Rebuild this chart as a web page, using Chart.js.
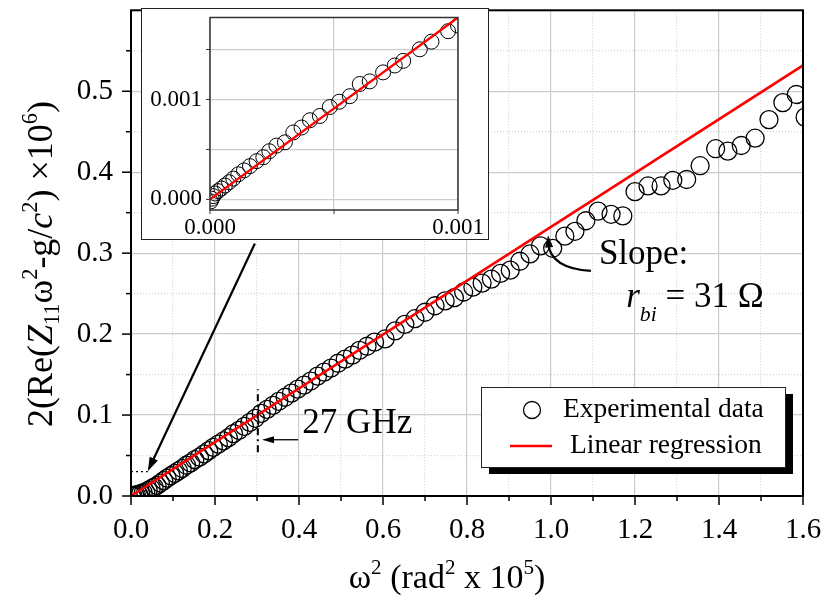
<!DOCTYPE html>
<html lang="en">
<head>
<meta charset="UTF-8">
<title>Re(Z11) vs omega squared</title>
<script src="https://cdn.jsdelivr.net/npm/chart.js@4.4.0/dist/chart.umd.min.js"></script>
<style>
    body { margin: 0; background: #fff; }
    #wrap { position: relative; width: 823px; height: 601px; }
    #wrap canvas { display: block; }
    #inset { position: absolute; left: 141px; top: 8px; width: 346px; height: 230px;
             border: 1px solid #222; background: #fff; }
</style>
</head>
<body>
<div id="wrap">
    <canvas id="mainChart" width="823" height="601"></canvas>
    <div id="inset"><canvas id="insetChart" width="346" height="230"></canvas></div>
</div>
<script>
// --- data ---
const expX = [0.002, 0.005, 0.009, 0.013, 0.018, 0.023, 0.029, 0.035, 0.041, 0.048,
    0.055, 0.062, 0.070, 0.078, 0.086, 0.095, 0.104, 0.113, 0.122, 0.132,
    0.142, 0.152, 0.163, 0.174, 0.185, 0.196, 0.208, 0.220, 0.232, 0.244,
    0.257, 0.270, 0.283, 0.296, 0.310, 0.324, 0.338, 0.352, 0.367, 0.382,
    0.397, 0.412, 0.428, 0.444, 0.460, 0.476, 0.493, 0.510, 0.527, 0.544,
    0.562, 0.580, 0.605, 0.629, 0.652, 0.676, 0.700, 0.724, 0.748, 0.770,
    0.792, 0.814, 0.836, 0.858, 0.880, 0.903, 0.926, 0.950, 0.975, 1.004,
    1.033, 1.057, 1.083, 1.112, 1.143, 1.171, 1.200, 1.231, 1.262, 1.290,
    1.323, 1.355, 1.392, 1.421, 1.453, 1.486, 1.519, 1.552, 1.584, 1.605];
const expY = [0.000, 0.000, 0.001, 0.001, 0.002, 0.003, 0.004, 0.005, 0.007, 0.009,
    0.011, 0.013, 0.016, 0.019, 0.022, 0.025, 0.028, 0.031, 0.034, 0.038,
    0.041, 0.045, 0.048, 0.052, 0.056, 0.060, 0.064, 0.068, 0.072, 0.077,
    0.081, 0.086, 0.091, 0.096, 0.102, 0.107, 0.112, 0.117, 0.122, 0.127,
    0.132, 0.137, 0.142, 0.148, 0.153, 0.158, 0.164, 0.169, 0.174, 0.180,
    0.185, 0.190, 0.194, 0.204, 0.212, 0.219, 0.227, 0.235, 0.241, 0.245,
    0.252, 0.258, 0.263, 0.268, 0.275, 0.279, 0.290, 0.299, 0.309, 0.306,
    0.321, 0.327, 0.340, 0.352, 0.348, 0.346, 0.376, 0.383, 0.383, 0.390,
    0.391, 0.408, 0.429, 0.426, 0.433, 0.442, 0.465, 0.486, 0.496, 0.468];
const fitX = [0, 1.6];
const fitY = [0, 0.532];

const insetX = [0.000003, 0.000007, 0.000013, 0.000021, 0.000032, 0.000046, 0.000060,
    0.000077, 0.000094, 0.000114, 0.000137, 0.000161, 0.000188, 0.000215, 0.000239,
    0.000268, 0.000302, 0.000336, 0.000369, 0.000403, 0.000443, 0.000483, 0.000521,
    0.000564, 0.000604, 0.000644, 0.000698, 0.000745, 0.000779, 0.000846, 0.000893,
    0.000960, 0.001000];
const insetY = [-0.000020, 0.000007, 0.000033, 0.000059, 0.000083, 0.000109, 0.000139,
    0.000172, 0.000208, 0.000251, 0.000290, 0.000333, 0.000383, 0.000422, 0.000482,
    0.000538, 0.000571, 0.000670, 0.000719, 0.000792, 0.000835, 0.000924, 0.000977,
    0.001033, 0.001155, 0.001181, 0.001271, 0.001340, 0.001386, 0.001502, 0.001578,
    0.001683, 0.001740];
const insetFitX = [0, 0.001];
const insetFitY = [0, 0.00182];

const seriesNames = ['Experimental data', 'Linear regression'];

const xMajorTicks = [0, 0.2, 0.4, 0.6, 0.8, 1.0, 1.2, 1.4, 1.6];
const xMinorTicks = [0.1, 0.3, 0.5, 0.7, 0.9, 1.1, 1.3, 1.5];
const yMajorTicks = [0, 0.1, 0.2, 0.3, 0.4, 0.5];
const yMinorTicks = [0.05, 0.15, 0.25, 0.35, 0.45, 0.55];
const insetXTicks = [0, 0.0005, 0.001];
const insetYTicks = [0, 0.0005, 0.001, 0.0015];
const insetLabels = [0, 0.001];

const FONT = '"Liberation Serif", "Times New Roman", serif';

function inList(list, v) {
    return list.some(m => Math.abs(m - v) < 1e-9);
}
function pairs(xs, ys) {
    return xs.map((x, i) => ({ x: x, y: ys[i] }));
}
// keep the plot area where the figure has it
function noPad(s) {
    s.paddingLeft = 0; s.paddingRight = 0; s.paddingTop = 0; s.paddingBottom = 0;
}

// text with sub/superscripts: parts = [{t, i (italic), s: 'sup'|'sub', dy}]
function richWidth(ctx, parts, size) {
    let w = 0;
    parts.forEach(p => {
        const fs = p.s ? size * 0.62 : size;
        ctx.font = (p.i ? 'italic ' : '') + fs + 'px ' + FONT;
        w += ctx.measureText(p.t).width;
    });
    return w;
}
function drawRich(ctx, parts, x, y, size) {
    let cx = x;
    parts.forEach(p => {
        const fs = p.s ? size * 0.62 : size;
        ctx.font = (p.i ? 'italic ' : '') + fs + 'px ' + FONT;
        let dy = 0;
        if (p.s === 'sup') dy = -size * 0.42;
        if (p.s === 'sub') dy = size * (p.dy || 0.22);
        ctx.fillText(p.t, cx, y + dy);
        cx += ctx.measureText(p.t).width;
    });
}
function arrowHead(ctx, x, y, ang, len, wid) {
    const c = Math.cos(ang), s = Math.sin(ang);
    ctx.beginPath();
    ctx.moveTo(x, y);
    ctx.lineTo(x - len * c + wid * s, y - len * s - wid * c);
    ctx.lineTo(x - len * c - wid * s, y - len * s + wid * c);
    ctx.closePath();
    ctx.fill();
}

const yTitle = [{ t: '2(Re(' }, { t: 'Z', i: 1 }, { t: '11', s: 'sub', dy: 0.2 }, { t: 'ω' },
    { t: '2', s: 'sup' }, { t: '-g/' }, { t: 'c', i: 1 }, { t: '2', s: 'sup' },
    { t: ') ×10' }, { t: '6', s: 'sup' }, { t: ')' }];
const xTitle = [{ t: 'ω' }, { t: '2', s: 'sup' }, { t: ' (rad' }, { t: '2', s: 'sup' },
    { t: ' x 10' }, { t: '5', s: 'sup' }, { t: ')' }];
const slopeText = [{ t: 'r', i: 1 }, { t: 'bi', i: 1, s: 'sub', dy: 0.4 }, { t: ' = 31 Ω' }];

// annotation anchors in data units
const insetArrow = { from: [0.295, 0.312], to: [0.040, 0.0305] };
const zoomBox = [0.04, 0.03];
const ghz = { x: 0.302, y0: 0.054, y1: 0.132, arrowFrom: [0.398, 0.0695], arrowTo: [0.312, 0.0695],
    label: '27 GHz', labelAt: [0.408, 0.078] };
const slope = { label: 'Slope:', labelAt: [1.114, 0.287], valueAt: [1.179, 0.234],
    curve: [[1.095, 0.278], [1.0, 0.281], [0.993, 0.322]] };

const mainDecor = {
    id: 'mainDecor',
    afterDatasetsDraw(chart) {
        const ctx = chart.ctx;
        const xs = chart.scales.x, ys = chart.scales.y;
        const a = chart.chartArea;
        const px = v => xs.getPixelForValue(v), py = v => ys.getPixelForValue(v);
        ctx.save();
        ctx.fillStyle = '#000';
        ctx.strokeStyle = '#000';

        // zoom box near origin
        ctx.setLineDash([2, 3]);
        ctx.lineWidth = 1.3;
        ctx.beginPath();
        ctx.moveTo(px(0), py(zoomBox[1]));
        ctx.lineTo(px(zoomBox[0]), py(zoomBox[1]));
        ctx.stroke();

        // 27 GHz marker
        ctx.setLineDash([7, 4, 2, 4]);
        ctx.lineWidth = 2;
        ctx.beginPath();
        ctx.moveTo(px(ghz.x), py(ghz.y0));
        ctx.lineTo(px(ghz.x), py(ghz.y1));
        ctx.stroke();
        ctx.setLineDash([]);
        ctx.lineWidth = 1.3;
        let x0 = px(ghz.arrowFrom[0]), y0 = py(ghz.arrowFrom[1]);
        let x1 = px(ghz.arrowTo[0]), y1 = py(ghz.arrowTo[1]);
        ctx.beginPath(); ctx.moveTo(x0, y0); ctx.lineTo(x1 + 8, y1); ctx.stroke();
        arrowHead(ctx, x1, y1, Math.PI, 12, 3.5);
        ctx.font = '35px ' + FONT;
        ctx.textBaseline = 'alphabetic';
        ctx.fillText(ghz.label, px(ghz.labelAt[0]), py(ghz.labelAt[1]));

        // arrow from inset to origin
        x0 = px(insetArrow.from[0]); y0 = py(insetArrow.from[1]);
        x1 = px(insetArrow.to[0]); y1 = py(insetArrow.to[1]);
        const ang = Math.atan2(y1 - y0, x1 - x0);
        ctx.lineWidth = 2.2;
        ctx.beginPath(); ctx.moveTo(x0, y0);
        ctx.lineTo(x1 - 10 * Math.cos(ang), y1 - 10 * Math.sin(ang)); ctx.stroke();
        arrowHead(ctx, x1, y1, ang, 14, 4.5);

        // slope annotation
        ctx.font = '35px ' + FONT;
        ctx.fillText(slope.label, px(slope.labelAt[0]), py(slope.labelAt[1]));
        drawRich(ctx, slopeText, px(slope.valueAt[0]), py(slope.valueAt[1]), 35);
        const c = slope.curve;
        ctx.lineWidth = 2.2;
        ctx.beginPath();
        ctx.moveTo(px(c[0][0]), py(c[0][1]));
        ctx.quadraticCurveTo(px(c[1][0]), py(c[1][1]), px(c[2][0]), py(c[2][1]) + 8);
        ctx.stroke();
        arrowHead(ctx, px(c[2][0]), py(c[2][1]), Math.atan2(py(c[2][1]) - py(c[1][1]), px(c[2][0]) - px(c[1][0])), 12, 4);

        // plot frame
        ctx.lineWidth = 2;
        ctx.strokeRect(a.left, a.top, a.right - a.left, a.bottom - a.top);

        // tick marks (outward)
        ctx.lineWidth = 1.5;
        xs.ticks.forEach(t => {
            const len = inList(xMajorTicks, t.value) ? 9 : 5;
            const p = px(t.value);
            ctx.beginPath(); ctx.moveTo(p, a.bottom); ctx.lineTo(p, a.bottom + len); ctx.stroke();
        });
        ys.ticks.forEach(t => {
            const len = inList(yMajorTicks, t.value) ? 9 : 5;
            const p = py(t.value);
            ctx.beginPath(); ctx.moveTo(a.left, p); ctx.lineTo(a.left - len, p); ctx.stroke();
        });

        // axis titles
        let w = richWidth(ctx, xTitle, 34);
        drawRich(ctx, xTitle, 447 - w / 2, 588, 34);
        ctx.save();
        ctx.translate(52, 264);
        ctx.rotate(-Math.PI / 2);
        w = richWidth(ctx, yTitle, 36);
        drawRich(ctx, yTitle, -w / 2, 0, 36);
        ctx.restore();

        // legend with drop shadow
        const L = { x: 481, y: 387, w: 304, h: 80 };
        ctx.fillStyle = '#000';
        ctx.fillRect(L.x + 8, L.y + 7, L.w, L.h);
        ctx.fillStyle = '#fff';
        ctx.fillRect(L.x, L.y, L.w, L.h);
        ctx.lineWidth = 1;
        ctx.strokeStyle = '#222';
        ctx.strokeRect(L.x + 0.5, L.y + 0.5, L.w, L.h);
        ctx.strokeStyle = '#000';
        ctx.lineWidth = 1.3;
        ctx.beginPath(); ctx.arc(532, 410, 8.5, 0, Math.PI * 2); ctx.stroke();
        ctx.strokeStyle = '#ff0000';
        ctx.lineWidth = 2.5;
        ctx.beginPath(); ctx.moveTo(510, 446); ctx.lineTo(552, 446); ctx.stroke();
        ctx.fillStyle = '#000';
        ctx.font = '27.5px ' + FONT;
        ctx.textBaseline = 'middle';
        ctx.fillText(seriesNames[0], 563, 410);
        ctx.fillText(seriesNames[1], 570, 446);
        ctx.restore();
    }
};

const gridColor = major => major ? '#cccccc' : '#d4d4d4';

new Chart(document.getElementById('mainChart'), {
    type: 'scatter',
    data: {
        datasets: [{
            label: seriesNames[1],
            data: pairs(fitX, fitY),
            showLine: true,
            borderColor: '#ff0000',
            borderWidth: 2.6,
            pointRadius: 0,
            clip: 0
        }, {
            label: seriesNames[0],
            data: pairs(expX, expY),
            pointStyle: 'circle',
            pointRadius: 9,
            borderColor: '#000',
            backgroundColor: 'rgba(0,0,0,0)',
            borderWidth: 1.3,
            clip: 0
        }]
    },
    options: {
        responsive: false,
        animation: false,
        layout: { padding: { top: 5, right: 20, left: 0, bottom: 0 } },
        plugins: { legend: { display: false }, tooltip: { enabled: false } },
        scales: {
            x: {
                type: 'linear', min: 0, max: 1.6,
                afterBuildTicks: s => {
                    s.ticks = xMajorTicks.concat(xMinorTicks).sort((p, q) => p - q).map(v => ({ value: v }));
                },
                afterFit: s => { s.height = 105; noPad(s); },
                grid: {
                    color: c => gridColor(c.tick && inList(xMajorTicks, c.tick.value)),
                    lineWidth: 1.2,
                    drawTicks: false
                },
                border: { display: false, dash: c => (c.tick && !inList(xMajorTicks, c.tick.value)) ? [1, 2] : [] },
                ticks: {
                    autoSkip: false, maxRotation: 0, padding: 17, color: '#000',
                    font: { family: FONT, size: 29 },
                    callback: v => inList(xMajorTicks, v) ? v.toFixed(1) : ''
                }
            },
            y: {
                type: 'linear', min: 0, max: 0.6,
                afterBuildTicks: s => {
                    s.ticks = yMajorTicks.concat(yMinorTicks).sort((p, q) => p - q).map(v => ({ value: v }));
                },
                afterFit: s => { s.width = 131; noPad(s); },
                grid: {
                    color: c => gridColor(c.tick && inList(yMajorTicks, c.tick.value)),
                    lineWidth: 1.2,
                    drawTicks: false
                },
                border: { display: false, dash: c => (c.tick && !inList(yMajorTicks, c.tick.value)) ? [1, 2] : [] },
                ticks: {
                    autoSkip: false, padding: 18, color: '#000',
                    font: { family: FONT, size: 29 },
                    callback: v => inList(yMajorTicks, v) ? v.toFixed(1) : ''
                }
            }
        }
    },
    plugins: [mainDecor]
});

const insetDecor = {
    id: 'insetDecor',
    afterDatasetsDraw(chart) {
        const ctx = chart.ctx;
        const a = chart.chartArea;
        const xs = chart.scales.x, ys = chart.scales.y;
        ctx.save();
        ctx.strokeStyle = '#333';
        ctx.lineWidth = 1.5;
        ctx.strokeRect(a.left, a.top, a.right - a.left, a.bottom - a.top);
        ctx.lineWidth = 1;
        xs.ticks.forEach(t => {
            const p = xs.getPixelForValue(t.value);
            ctx.beginPath(); ctx.moveTo(p, a.bottom); ctx.lineTo(p, a.bottom + 4); ctx.stroke();
        });
        ys.ticks.forEach(t => {
            const p = ys.getPixelForValue(t.value);
            ctx.beginPath(); ctx.moveTo(a.left, p); ctx.lineTo(a.left - 4, p); ctx.stroke();
        });
        ctx.restore();
    }
};

new Chart(document.getElementById('insetChart'), {
    type: 'scatter',
    data: {
        datasets: [{
            label: seriesNames[1],
            data: pairs(insetFitX, insetFitY),
            showLine: true,
            borderColor: '#ff0000',
            borderWidth: 2.4,
            pointRadius: 0,
            clip: 0
        }, {
            label: seriesNames[0],
            data: pairs(insetX, insetY),
            pointRadius: 7.5,
            borderColor: '#000',
            backgroundColor: 'rgba(0,0,0,0)',
            borderWidth: 1,
            clip: 0
        }]
    },
    options: {
        responsive: false,
        animation: false,
        layout: { padding: { top: 7, right: 30, left: 0, bottom: 0 } },
        plugins: { legend: { display: false }, tooltip: { enabled: false } },
        scales: {
            x: {
                type: 'linear', min: 0, max: 0.001,
                afterBuildTicks: s => { s.ticks = insetXTicks.map(v => ({ value: v })); },
                afterFit: s => { s.height = 29; noPad(s); },
                grid: { color: '#cccccc', lineWidth: 1.2, drawTicks: false },
                border: { display: false },
                ticks: {
                    autoSkip: false, maxRotation: 0, padding: 4, color: '#000',
                    font: { family: FONT, size: 23 },
                    callback: v => inList(insetLabels, v) ? v.toFixed(3) : ''
                }
            },
            y: {
                type: 'linear', min: -0.000106, max: 0.00182,
                afterBuildTicks: s => { s.ticks = insetYTicks.map(v => ({ value: v })); },
                afterFit: s => { s.width = 68; noPad(s); },
                grid: { color: '#cccccc', lineWidth: 1.2, drawTicks: false },
                border: { display: false },
                ticks: {
                    autoSkip: false, padding: 8, color: '#000',
                    font: { family: FONT, size: 23 },
                    callback: v => inList(insetLabels, v) ? v.toFixed(3) : ''
                }
            }
        }
    },
    plugins: [insetDecor]
});
</script>
</body>
</html>
